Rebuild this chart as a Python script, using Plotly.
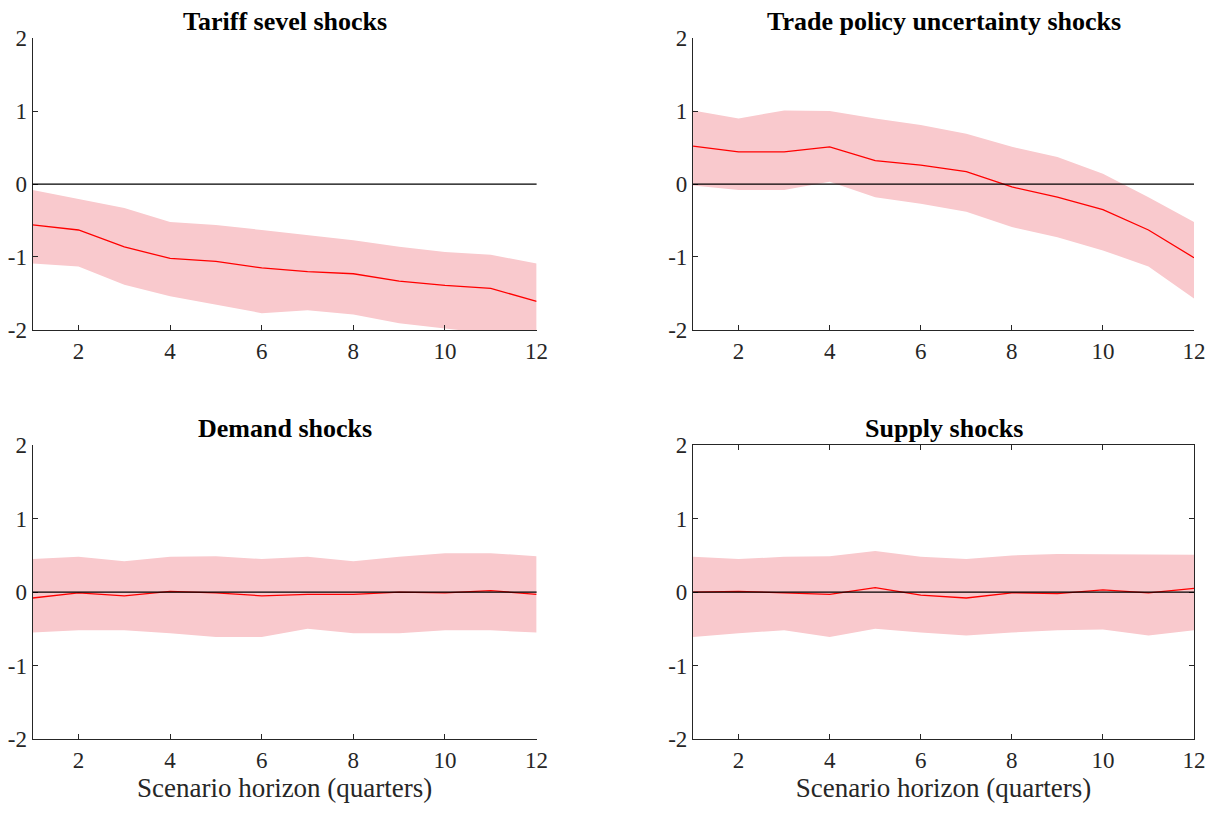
import plotly.graph_objects as go

horizon = list(range(1, 13))
x_ticks = [2, 4, 6, 8, 10, 12]
y_ticks = [-2, -1, 0, 1, 2]
y_tick_labels = ["-2", "-1", "0", "1", "2"]

titles = ["Tariff sevel shocks", "Trade policy uncertainty shocks", "Demand shocks", "Supply shocks"]
x_label = "Scenario horizon (quarters)"

tariff_median = [-0.56, -0.63, -0.86, -1.02, -1.06, -1.15, -1.20, -1.23, -1.33, -1.39, -1.43, -1.61]
tariff_upper = [-0.08, -0.20, -0.33, -0.52, -0.56, -0.63, -0.70, -0.77, -0.86, -0.93, -0.97, -1.09]
tariff_lower = [-1.09, -1.13, -1.38, -1.54, -1.66, -1.77, -1.73, -1.79, -1.91, -1.98, -2.05, -2.10]

tpu_median = [0.52, 0.44, 0.44, 0.51, 0.32, 0.26, 0.17, -0.04, -0.18, -0.35, -0.63, -1.01]
tpu_upper = [1.01, 0.90, 1.01, 1.00, 0.90, 0.81, 0.69, 0.51, 0.37, 0.14, -0.18, -0.52]
tpu_lower = [-0.02, -0.08, -0.08, 0.03, -0.18, -0.27, -0.38, -0.59, -0.73, -0.91, -1.13, -1.57]

demand_median = [-0.08, -0.01, -0.05, 0.01, -0.01, -0.05, -0.03, -0.03, 0.00, -0.01, 0.02, -0.03]
demand_upper = [0.45, 0.48, 0.42, 0.48, 0.49, 0.45, 0.48, 0.42, 0.48, 0.53, 0.53, 0.49]
demand_lower = [-0.55, -0.52, -0.52, -0.56, -0.61, -0.61, -0.50, -0.56, -0.56, -0.52, -0.52, -0.55]

supply_median = [0.00, 0.01, -0.01, -0.03, 0.06, -0.04, -0.08, -0.01, -0.02, 0.03, -0.01, 0.05]
supply_upper = [0.48, 0.45, 0.48, 0.49, 0.56, 0.48, 0.45, 0.50, 0.52, 0.52, 0.51, 0.51]
supply_lower = [-0.61, -0.56, -0.52, -0.61, -0.50, -0.55, -0.59, -0.55, -0.52, -0.51, -0.59, -0.52]

panels = [
    (tariff_median, tariff_upper, tariff_lower),
    (tpu_median, tpu_upper, tpu_lower),
    (demand_median, demand_upper, demand_lower),
    (supply_median, supply_upper, supply_lower),
]

W, H = 1207, 814
x_domains = [[33 / W, 542 / W], [700 / W, 1206 / W]]
y_domains = [[1 - 328 / H, 1 - 27 / H], [1 - 750 / H, 1 - 447 / H]]
title_centers = [10, 430]

FONT = "Liberation Serif"
BAND = "#F9C9CD"
AXCOL = "#262626"

fig = go.Figure()
layout = dict(
    width=W, height=H,
    margin=dict(l=0, r=0, t=0, b=0),
    paper_bgcolor="white", plot_bgcolor="white",
    showlegend=False,
    font=dict(family=FONT, size=23, color="#262626"),
)
annotations = []
shapes = []

for i, (med, up, lo) in enumerate(panels):
    r, c = divmod(i, 2)
    n = i + 1
    xa = "x" if n == 1 else f"x{n}"
    ya = "y" if n == 1 else f"y{n}"
    fig.add_trace(go.Scatter(
        x=horizon + horizon[::-1], y=up + lo[::-1],
        fill="toself", fillcolor=BAND, line=dict(width=0),
        mode="lines", xaxis=xa, yaxis=ya, hoverinfo="skip",
    ))
    fig.add_trace(go.Scatter(
        x=horizon, y=med, mode="lines",
        line=dict(color="#FF0000", width=1.3),
        xaxis=xa, yaxis=ya,
    ))
    shapes.append(dict(
        type="line", xref=f"{xa} domain", yref=ya,
        x0=0, x1=1, y0=0, y1=0,
        line=dict(color="black", width=1.2), layer="above",
    ))
    box = (n == 4)
    xkey = "xaxis" if n == 1 else f"xaxis{n}"
    ykey = "yaxis" if n == 1 else f"yaxis{n}"
    layout[xkey] = dict(
        domain=x_domains[c], anchor=ya, range=[1, 12],
        tickvals=x_ticks, ticks="inside", ticklen=5, tickcolor=AXCOL,
        showline=True, linecolor=AXCOL, linewidth=1.2,
        mirror="ticks" if box else False,
        showgrid=False, zeroline=False,
        tickfont=dict(family=FONT, size=23, color="#262626"),
        title=dict(text=x_label if r == 1 else "",
                   font=dict(family=FONT, size=27, color="#262626"), standoff=2),
    )
    layout[ykey] = dict(
        domain=y_domains[r], anchor=xa, range=[-2, 2],
        tickvals=y_ticks, ticktext=y_tick_labels,
        ticks="inside", ticklen=5, tickcolor=AXCOL,
        showline=True, linecolor=AXCOL, linewidth=1.2,
        mirror="ticks" if box else False,
        showgrid=False, zeroline=False,
        tickfont=dict(family=FONT, size=23, color="#262626"),
    )
    annotations.append(dict(
        text=f"<b>{titles[i]}</b>", xref="paper", yref="paper",
        x=(x_domains[c][0] + x_domains[c][1]) / 2, y=1 - title_centers[r] / H,
        xanchor="center", yanchor="middle", showarrow=False,
        font=dict(family=FONT, size=26, color="black"),
    ))

layout["annotations"] = annotations
layout["shapes"] = shapes
fig.update_layout(**layout)
fig.write_html(
    "out.html",
    config={"displayModeBar": False},
    post_script="document.body.style.margin='0';document.body.style.overflow='hidden';",
)
